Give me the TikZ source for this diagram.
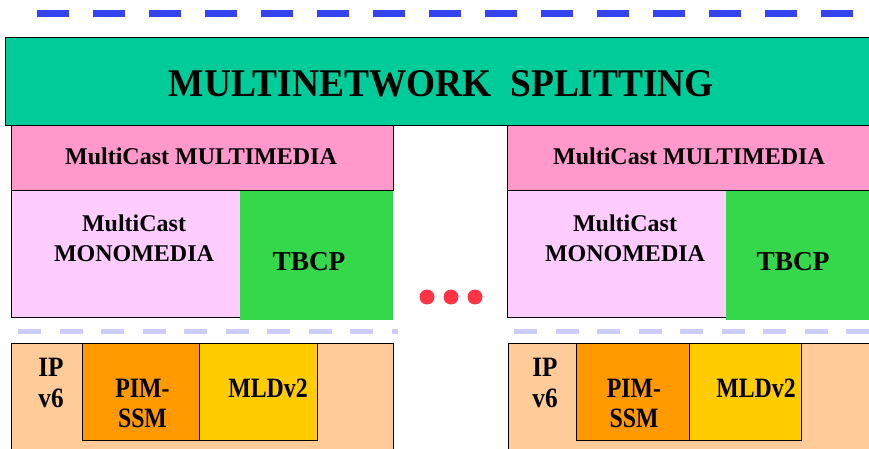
\documentclass[tikz,border=0pt]{standalone}
\usepackage{fontspec}
\setmainfont{Liberation Serif}
\usepackage{graphicx}
\newlength\px
\setlength\px{0.75pt}
\definecolor{splitgreen}{HTML}{00CC99}
\definecolor{mmpink}{HTML}{FF99CC}
\definecolor{monopink}{HTML}{FFCCFF}
\definecolor{tbcpgreen}{HTML}{35D74B}
\definecolor{dotred}{HTML}{FF3344}
\definecolor{ippeach}{HTML}{FFCC99}
\definecolor{pimorange}{HTML}{FF9900}
\definecolor{mldyellow}{HTML}{FFCC00}
\definecolor{topblue}{HTML}{3344EE}
\definecolor{paleblue}{HTML}{CCCCFF}
\tikzset{
  layer/.style={draw=black, line width=1\px, inner sep=0pt, outer sep=0pt, anchor=north west},
  plain/.style={layer, draw=none},
  lbl/.style={anchor=base, inner sep=0pt, outer sep=0pt, font=\bfseries\fontsize{18}{22}\selectfont},
  biglbl/.style={lbl, font=\bfseries\fontsize{20.5}{24}\selectfont},
  netlbl/.style={lbl, font=\bfseries\fontsize{21}{25}\selectfont},
  reddot/.style={circle, fill=dotred, minimum size=15\px, inner sep=0pt},
  bluedash/.style={draw=topblue, line width=7\px, dash pattern=on 32\px off 24\px},
  paledash/.style={draw=paleblue, line width=5\px, dash pattern=on 23\px off 18.5\px},
}
\newcommand{\narrow}[1]{\scalebox{0.85}[1]{#1}}
\newcommand{\semiwide}[1]{\scalebox{0.9}[1]{#1}}
\begin{document}
\begin{tikzpicture}[x=\px, y=-\px]
  \useasboundingbox (0,0) rectangle (869,449);
  \clip (0,0) rectangle (869,449);

  % separator lines
  \coordinate (tl) at (37,14);
  \coordinate (tr) at (855,14);
  \draw[bluedash] (tl) -- (tr);
  \coordinate (ml1) at (18,332);
  \coordinate (ml2) at (398,332);
  \coordinate (mr1) at (514,332);
  \coordinate (mr2) at (872,332);
  \draw[paledash] (ml1) -- (ml2);
  \draw[paledash] (mr1) -- (mr2);

  % left stack
  \node[layer, fill=mmpink, minimum width=382\px, minimum height=65\px] (mmL) at (11,126) {};
  \node[layer, fill=monopink, minimum width=229\px, minimum height=127\px] (monoL) at (11,191) {};
  \node[plain, fill=tbcpgreen, minimum width=153\px, minimum height=129\px] (tbL) at (240,191) {};
  \node[layer, fill=ippeach, minimum width=382\px, minimum height=120\px] (ipL) at (11,344) {};
  \node[layer, fill=pimorange, minimum width=117\px, minimum height=97\px] (pimL) at (82,344) {};
  \node[layer, fill=mldyellow, minimum width=118\px, minimum height=97\px] (mldL) at (199,344) {};

  % right stack
  \node[layer, fill=mmpink, minimum width=370\px, minimum height=65\px] (mmR) at (507,126) {};
  \node[layer, fill=monopink, minimum width=219\px, minimum height=127\px] (monoR) at (507,191) {};
  \node[plain, fill=tbcpgreen, minimum width=150\px, minimum height=129\px] (tbR) at (726,191) {};
  \node[layer, fill=ippeach, minimum width=370\px, minimum height=120\px] (ipR) at (508,344) {};
  \node[layer, fill=pimorange, minimum width=113\px, minimum height=97\px] (pimR) at (576,344) {};
  \node[layer, fill=mldyellow, minimum width=112\px, minimum height=97\px] (mldR) at (689,344) {};

  % splitting layer on top
  \node[layer, fill=splitgreen, minimum width=870\px, minimum height=88\px] (split) at (5,38) {};
  \node[lbl] (splitT) at (441.5,97) {\resizebox{545\px}{26\px}{\bfseries MULTINETWORK\ \ SPLITTING}};

  % left labels
  \node[lbl] (mmLT) at (201,165) {MultiCast MULTIMEDIA};
  \node[lbl] (monoLT1) at (134,232) {MultiCast};
  \node[lbl] (monoLT2) at (134,262) {MONOMEDIA};
  \node[biglbl] (tbLT) at (309,271) {TBCP};
  \node[netlbl] (ipLT1) at (51,377) {\semiwide{IP}};
  \node[netlbl] (ipLT2) at (51,408) {\semiwide{v6}};
  \node[netlbl] (pimLT1) at (142.5,398) {\narrow{PIM-}};
  \node[netlbl] (pimLT2) at (142.5,427) {\narrow{SSM}};
  \node[netlbl] (mldLT) at (268,398) {\narrow{MLDv2}};

  % right labels
  \node[lbl] (mmRT) at (689,165) {MultiCast MULTIMEDIA};
  \node[lbl] (monoRT1) at (625,232) {MultiCast};
  \node[lbl] (monoRT2) at (625,262) {MONOMEDIA};
  \node[biglbl] (tbRT) at (793,271) {TBCP};
  \node[netlbl] (ipRT1) at (545,377) {\semiwide{IP}};
  \node[netlbl] (ipRT2) at (545,408) {\semiwide{v6}};
  \node[netlbl] (pimRT1) at (634,398) {\narrow{PIM-}};
  \node[netlbl] (pimRT2) at (634,427) {\narrow{SSM}};
  \node[netlbl] (mldRT) at (756,398) {\narrow{MLDv2}};

  % ellipsis between stacks
  \node[reddot] (d1) at (427,297) {};
  \node[reddot] (d2) at (451,297) {};
  \node[reddot] (d3) at (475,297) {};
\end{tikzpicture}
\end{document}
